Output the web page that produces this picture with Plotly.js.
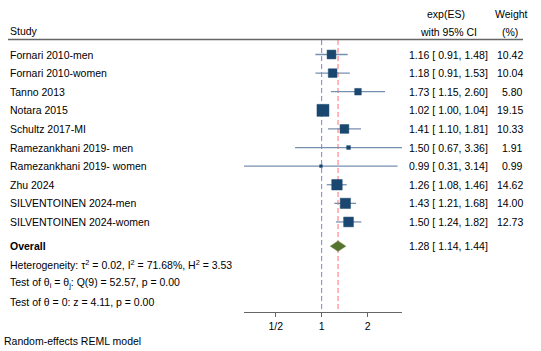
<!DOCTYPE html>
<html>
<head>
<meta charset="utf-8">
<script src="https://cdn.plot.ly/plotly-3.0.1.min.js"></script>
<style>html,body{margin:0;padding:0;background:#fff;}#chart{width:541px;height:351px;}</style>
</head>
<body>
<div id="chart"></div>
<script>
// ---- data ----
const studies = ["Fornari 2010-men","Fornari 2010-women","Tanno 2013","Notara 2015","Schultz 2017-MI",
  "Ramezankhani 2019- men","Ramezankhani 2019- women","Zhu 2024","SILVENTOINEN 2024-men","SILVENTOINEN 2024-women"];
const es      = [1.16, 1.18, 1.73, 1.02, 1.41, 1.50, 0.99, 1.26, 1.43, 1.50];
const ciLow   = [0.91, 0.91, 1.15, 1.00, 1.10, 0.67, 0.31, 1.08, 1.21, 1.24];
const ciHigh  = [1.48, 1.53, 2.60, 1.04, 1.81, 3.36, 3.14, 1.46, 1.68, 1.82];
const weights = [10.42, 10.04, 5.80, 19.15, 10.33, 1.91, 0.99, 14.62, 14.00, 12.73];
const overallES = 1.28, overallLow = 1.14, overallHigh = 1.44;
const nullValue = 1;
const xTickVals = [0.5, 1, 2];
const xTickText = ["1/2", "1", "2"];
const heterogeneityText = "Heterogeneity: τ<sup>2</sup> = 0.02, I<sup>2</sup> = 71.68%, H<sup>2</sup> = 3.53";
const qTestText = "Test of θ<sub>i</sub> = θ<sub>j</sub>: Q(9) = 52.57, p = 0.00";
const zTestText = "Test of θ = 0: z = 4.11, p = 0.00";
const modelText = "Random-effects REML model";

// ---- layout helpers ----
const W = 541, H = 351;
const FONT = "Liberation Sans, Arial, sans-serif";
const FS = 10.5;
const rows = studies.map((_, i) => i);
const overallRow = studies.length + 0.3;
const py = p => 1 - p / H;     // pixel-from-top -> paper
const px = p => p / W;
const f2 = v => v.toFixed(2);

// CI lines
const ciX = [], ciY = [];
rows.forEach(i => { ciX.push(ciLow[i], ciHigh[i], null); ciY.push(i, i, null); });

const traces = [
  { x: [nullValue, nullValue], y: [-0.78, 13.84], mode: "lines", hoverinfo: "skip",
    line: { color: "#7a7aff", width: 1, dash: "5px,3px" } },
  { x: [overallES, overallES], y: [-0.78, 13.84], mode: "lines", hoverinfo: "skip",
    line: { color: "#ff7070", width: 1, dash: "5px,3px" } },
  { x: ciX, y: ciY, mode: "lines", line: { color: "#7890b0", width: 1.3 }, hoverinfo: "skip" },
  { x: es, y: rows, mode: "markers",
    marker: { symbol: "square", color: "#1a476f", opacity: 1,
              size: weights.map(w => 2.74 * Math.sqrt(w)),
              line: { width: 0.5, color: "#1a476f" } } },
  { x: [overallLow, overallES, overallHigh, overallES, overallLow],
    y: [overallRow, overallRow - 0.28, overallRow, overallRow + 0.28, overallRow],
    mode: "lines", fill: "toself", fillcolor: "#55752f", line: { color: "#55752f", width: 0.5 } }
];

const annotations = [];
const txt = (text, x, y, xanchor, yref, extra) => annotations.push(Object.assign({
  text, x, y, xref: "paper", yref: yref || "paper", xanchor, yanchor: "middle", showarrow: false,
  borderpad: 0, font: { family: FONT, size: FS, color: "#000" }
}, extra || {}));

// headers
txt("Study", px(9), py(31), "left");
txt("exp(ES)", px(446), py(14), "center");
txt("with 95% CI", px(448), py(32), "center");
txt("Weight", px(511), py(14), "center");
txt("(%)", px(510), py(32), "center");

rows.forEach(i => {
  txt(studies[i], px(9), i, "left", "y");
  txt(`${f2(es[i])} [ ${f2(ciLow[i])}, ${f2(ciHigh[i])}]`, px(489), i, "right", "y");
  txt(f2(weights[i]), px(524), i, "right", "y");
});
txt("<b>Overall</b>", px(9), overallRow, "left", "y");
txt(`${f2(overallES)} [ ${f2(overallLow)}, ${f2(overallHigh)}]`, px(489), overallRow, "right", "y");
txt(heterogeneityText, px(9), py(264), "left");
txt(qTestText, px(9), py(283), "left");
txt(zTestText, px(9), py(302), "left");
txt(modelText, px(3), py(341), "left");

const layout = {
  width: W, height: H, margin: { l: 0, r: 0, t: 0, b: 0 },
  paper_bgcolor: "#fff", plot_bgcolor: "#fff", showlegend: false,
  xaxis: { type: "log", range: [Math.log10(0.31), Math.log10(3.36)],
    domain: [244 / W, 402 / W], anchor: "y",
    showgrid: false, zeroline: false, showline: true, linecolor: "#666", linewidth: 1,
    ticks: "outside", ticklen: 4, tickcolor: "#666", tickvals: xTickVals, ticktext: xTickText,
    tickfont: { family: FONT, size: FS, color: "#000" } },
  yaxis: { domain: [1 - 312 / H, 1], range: [13.84, -2.93], visible: false },
  shapes: [{ type: "line", xref: "paper", yref: "paper", x0: px(8), x1: px(523),
    y0: py(39.5), y1: py(39.5), line: { color: "#666", width: 1.5 } }],
  annotations
};

Plotly.newPlot("chart", traces, layout, { displayModeBar: false, staticPlot: true });
</script>
</body>
</html>
